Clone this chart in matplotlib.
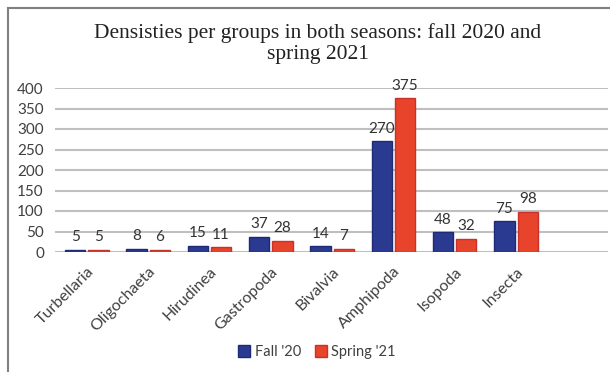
import matplotlib
matplotlib.use('Agg')
import matplotlib.pyplot as plt
from matplotlib.lines import Line2D
import numpy as np

groups = ['Turbellaria', 'Oligochaeta', 'Hirudinea', 'Gastropoda',
          'Bivalvia', 'Amphipoda', 'Isopoda', 'Insecta']
fall_20 = [5, 8, 15, 37, 14, 270, 48, 75]
spring_21 = [5, 6, 11, 28, 7, 375, 32, 98]
series_names = ["Fall '20", "Spring '21"]
yticks = [0, 50, 100, 150, 200, 250, 300, 350, 400]

plt.rcParams['font.family'] = ['Lato', 'DejaVu Sans']

fig = plt.figure(figsize=(6.1, 3.72), dpi=100)
ax = fig.add_axes([55 / 610, 1 - 252 / 372, (608 - 55) / 610, (252 - 88) / 372])

x = np.arange(len(groups))
w = 0.33
off = 0.19
b1 = ax.bar(x - off, fall_20, w, color='#2B3A91', edgecolor='#1E2B74',
            linewidth=1, label=series_names[0], zorder=3)
b2 = ax.bar(x + off, spring_21, w, color='#E8432B', edgecolor='#C8322A',
            linewidth=1, label=series_names[1], zorder=3)

for bars, vals in [(b1, fall_20), (b2, spring_21)]:
    for bar, v in zip(bars, vals):
        ax.text(bar.get_x() + bar.get_width() / 2, v + 14, str(v),
                ha='center', va='bottom', fontsize=11, color='#333333')

ax.set_xlim(-0.52, 8.5)
ax.set_ylim(0, 400)
ax.set_yticks(yticks)
ax.set_xticks(x)
ax.set_xticklabels(groups, rotation=45, ha='right', rotation_mode='anchor',
                   fontsize=11.5, color='#404040')
ax.tick_params(axis='y', labelsize=11, labelcolor='#404040', length=0, pad=8)
ax.tick_params(axis='x', length=0, pad=9)
ax.grid(axis='y', color='#BFBFBF', linewidth=1.5, zorder=0)
for s in ax.spines.values():
    s.set_visible(False)

fig.text(0.521, 1 - 43.5 / 372, 'Densisties per groups in both seasons: fall 2020 and\nspring 2021',
         ha='center', va='center', fontsize=15.5, family='Liberation Serif',
         linespacing=1.15, color='#222222')

fig.legend(handles=[b1, b2], loc='center', bbox_to_anchor=(0.52, 1 - 352 / 372),
           ncol=2, frameon=False, fontsize=10.5, handlelength=0.8, handleheight=0.8,
           handletextpad=0.3, columnspacing=1.0, labelcolor='#404040')

fig.add_artist(Line2D([8 / 610, 1], [1 - 8 / 372, 1 - 8 / 372], color='#808080',
                      linewidth=1.5, transform=fig.transFigure))
fig.add_artist(Line2D([8 / 610, 8 / 610], [0, 1 - 8 / 372], color='#808080',
                      linewidth=1.5, transform=fig.transFigure))

fig.savefig('out.png', dpi=100, facecolor='white')
